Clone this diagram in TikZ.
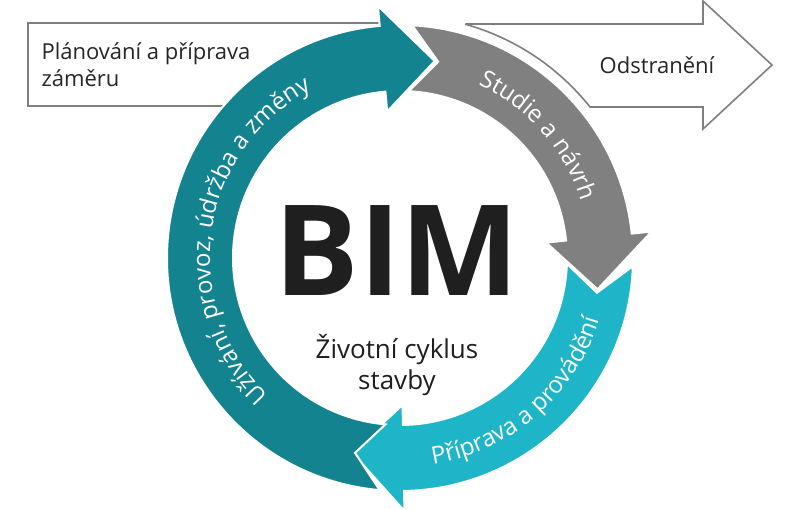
\documentclass[tikz,border=0pt]{standalone}
\usepackage{fontspec}
\setmainfont{Open Sans}
\usetikzlibrary{decorations.text}
\definecolor{tealdark}{HTML}{13838F}
\definecolor{greyband}{HTML}{808080}
\definecolor{cyanband}{HTML}{1FB5C8}
\definecolor{outline}{HTML}{7F7F7F}
\tikzset {
  % one band of the ring: colour, start angle, head angle
  band/.style = {
    draw = white,
    line width = 2,
    line join = miter
  },
  % white text running along the ring
  ring text/.style = {
    decorate,
    decoration = {
      text along path,
      text align = center,
      text = {#1}
    }
  },
  label/.style = {
    font = \fontsize{22}{27}\selectfont,
    align = left,
    text = black!85
  },
  frame/.style = {
    draw = outline,
    line width = 1.6,
    fill = white
  }
}
\newcommand{\ringarrow}[3]{
  \path[band, fill = #1]
    (#2:233) arc[start angle = #2, end angle = #3, radius = 233]
    -- (#3:253)
    -- ({#3-15}:200)
    -- (#3:147)
    -- (#3:167) arc[start angle = #3, end angle = #2, radius = 167]
    -- ({#2-8}:200)
    -- cycle;
}
\begin{document}
\begin{tikzpicture}[x = 1pt, y = 1pt]
  \useasboundingbox (0,0) rectangle (800,510);

  % side frames behind the ring
  \draw[frame] (385,487) -- (28,487) -- (28,404) -- (385,404);
  \draw[frame] (465.5,486) -- (703,486) -- (703,509) -- (772,445)
    -- (703,381) -- (703,403) -- (590,403)
    arc[start angle = 38.5, end angle = 74.4, radius = 243];
  \node[label] (plan) [anchor = west] at (38,445) {Plánování a příprava\\záměru};
  \node[label] (odstr) at (657,445) {Odstranění};

  \begin{scope}[shift = {(400,252)}]
    \fill[white] (0,0) circle[radius = 166];
    \ringarrow{greyband}{87}{6}
    \ringarrow{cyanband}{-2}{-89}
    \ringarrow{tealdark}{265}{95}

    \path[ring text = {|\color{white}\fontsize{24}{24}\selectfont|Užívání, provoz, údržba a změny}]
      (235:190) arc[start angle = 235, end angle = 109, radius = 190];
    \path[ring text = {|\color{white}\fontsize{24}{24}\selectfont|Studie a návrh}]
      (82:190) arc[start angle = 82, end angle = 1, radius = 190];
    \path[ring text = {|\color{white}\fontsize{24}{24}\selectfont|Příprava a provádění}]
      (-96:209) arc[start angle = -96, end angle = -2, radius = 209];

    \node (bim) [font = \fontsize{126}{126}\selectfont\bfseries, text = black!88]
      at (-3,7) {BIM};
    \node (cycle) [font = \fontsize{26}{31}\selectfont, align = center, text = black!88]
      at (-3,-107) {Životní cyklus\\stavby};
  \end{scope}
\end{tikzpicture}
\end{document}
